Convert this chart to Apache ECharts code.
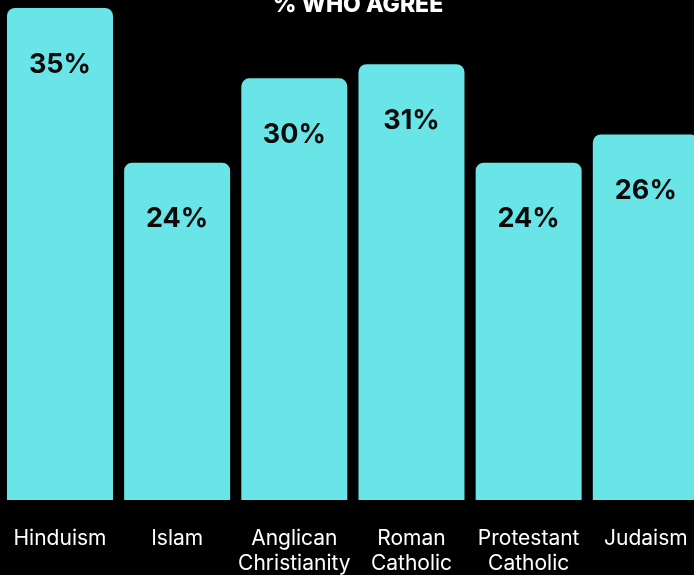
<!DOCTYPE html>
<html>
<head>
<meta charset="utf-8">
<script src="https://cdn.jsdelivr.net/npm/echarts@6/dist/echarts.min.js"></script>
<style>
  html, body { margin: 0; padding: 0; background: #000; }
  #chart { width: 694px; height: 575px; }
</style>
</head>
<body>
<div id="chart"></div>
<script>
// Share who agree, by religion
const categories = ['Hinduism', 'Islam', 'Anglican\nChristianity', 'Roman\nCatholic', 'Protestant\nCatholic', 'Judaism'];
const agreeShare = [35, 24, 30, 31, 24, 26];

const chart = echarts.init(document.getElementById('chart'));
chart.setOption({
  backgroundColor: '#000',
  animation: false,
  title: {
    text: '% WHO AGREE',
    left: 353,
    top: -11,
    textAlign: 'center',
    textStyle: { color: '#fff', fontFamily: 'Inter', fontWeight: 800, fontSize: 23 }
  },
  grid: { left: 1.4, top: 8, right: -10.4, bottom: 75, containLabel: false, outerBoundsMode: 'none' },
  xAxis: {
    type: 'category',
    data: categories,
    axisLine: { show: false },
    axisTick: { show: false },
    axisLabel: {
      color: '#fff',
      fontFamily: 'Inter',
      fontSize: 21,
      lineHeight: 25,
      margin: 26,
      interval: 0
    }
  },
  yAxis: {
    type: 'value',
    min: 0,
    max: 35,
    show: false,
    splitLine: { show: false }
  },
  series: [{
    type: 'bar',
    data: agreeShare,
    barWidth: 106,
    itemStyle: { color: '#69e5e8', borderRadius: [8, 8, 0, 0] },
    label: {
      show: true,
      position: 'insideTop',
      distance: 43,
      formatter: '{c}%',
      color: '#0a0a0a',
      fontFamily: 'Inter',
      fontWeight: 'bold',
      fontSize: 27
    }
  }]
});
</script>
</body>
</html>
